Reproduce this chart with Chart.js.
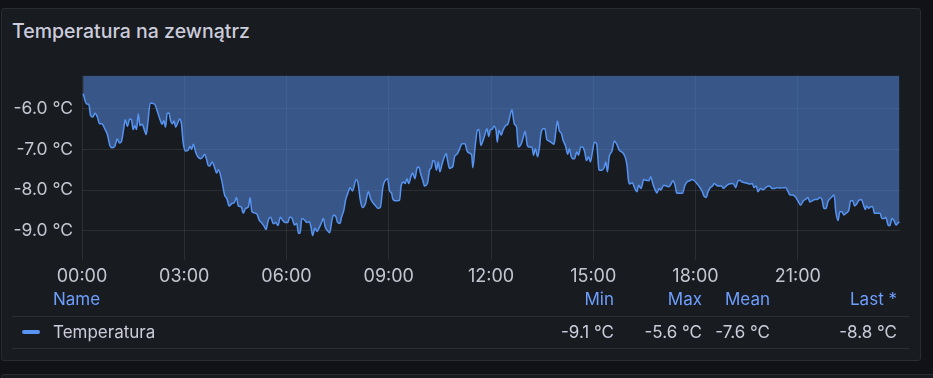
<!DOCTYPE html>
<html>
<head>
<meta charset="utf-8">
<script src="https://cdn.jsdelivr.net/npm/chart.js@4"></script>
<style>
    html, body {
        margin: 0;
        padding: 0;
        width: 933px;
        height: 378px;
        overflow: hidden;
        background: #111217;
        font-family: Inter, "Open Sans", sans-serif;
    }
    .panel {
        position: absolute;
        left: 1px;
        top: 8px;
        width: 920px;
        height: 353px;
        background: #181b1f;
        border: 1px solid #2a2c31;
        border-radius: 3px;
        box-sizing: border-box;
    }
    .panel.next {
        top: 374px;
        width: 940px;
        height: 30px;
    }
    .title {
        position: absolute;
        left: 12px;
        top: 19px;
        font-size: 19.5px;
        font-weight: 500;
        color: #ccccdc;
        line-height: 24px;
    }
    .chart-box {
        position: absolute;
        left: 0;
        top: 56px;
        width: 900px;
        height: 239px;
    }
    .legend {
        position: absolute;
        left: 12px;
        top: 288px;
        width: 897px;
        font-size: 17px;
    }
    .legend .row {
        position: relative;
        border-bottom: 1px solid #2c2e33;
        box-sizing: border-box;
    }
    .legend .row.head { height: 29px; color: #6e9fff; }
    .legend .row.body { height: 32px; color: #ccccdc; }
    .legend span {
        position: absolute;
        line-height: 22px;
        white-space: nowrap;
    }
    .legend .name { left: 41px; }
    .legend .head span { top: 0; }
    .legend .body span { top: 4px; }
    .legend .marker {
        position: absolute;
        left: 10px;
        top: 13px;
        width: 18px;
        height: 4px;
        border-radius: 2px;
        background: #5794f2;
    }
</style>
</head>
<body>
<div class="panel"></div>
<div class="panel next"></div>
<div class="title">Temperatura na zewnątrz</div>
<div class="chart-box"><canvas id="tempChart"></canvas></div>
<div class="legend" id="legend"></div>

<script>
// Minutes since 00:00 and the temperature read at that time
const minutes = [
    2, 8, 12, 15, 19, 23, 27, 31, 35, 40,
    45, 49, 53, 58, 62, 66, 69, 73, 76, 80,
    84, 87, 90, 93, 96, 99, 102, 106, 110, 113,
    116, 120, 123, 128, 133, 137, 141, 144, 147, 150,
    153, 156, 159, 162, 165, 169, 172, 175, 178, 182,
    187, 190, 193, 196, 200, 204, 209, 213, 216, 219,
    222, 225, 229, 234, 237, 240, 246, 251, 255, 259,
    264, 268, 272, 275, 280, 284, 288, 293, 296, 299,
    303, 308, 312, 316, 321, 324, 328, 332, 337, 341,
    345, 349, 353, 358, 362, 366, 370, 374, 378, 381,
    384, 387, 392, 396, 400, 403, 406, 410, 414, 417,
    421, 425, 428, 431, 436, 440, 443, 447, 450, 454,
    457, 461, 464, 468, 472, 476, 483, 486, 490, 494,
    499, 504, 508, 512, 517, 521, 525, 530, 534, 538,
    541, 545, 547, 551, 555, 559, 562, 566, 569, 572,
    575, 579, 582, 586, 590, 593, 596, 600, 603, 608,
    612, 615, 618, 621, 624, 627, 630, 634, 638, 641,
    643, 647, 650, 653, 656, 660, 665, 669, 674, 678,
    682, 686, 688, 692, 696, 699, 702, 706, 709, 713,
    716, 719, 722, 725, 729, 731, 734, 738, 741, 746,
    750, 753, 757, 759, 761, 765, 768, 773, 777, 780,
    784, 787, 792, 795, 798, 802, 805, 808, 812, 815,
    818, 822, 827, 831, 834, 837, 840, 844, 847, 851,
    855, 858, 861, 864, 867, 871, 874, 878, 881, 885,
    888, 892, 895, 899, 902, 906, 908, 910, 915, 919,
    922, 925, 928, 933, 937, 941, 946, 950, 954, 959,
    962, 964, 969, 972, 977, 980, 984, 989, 993, 998,
    1001, 1005, 1009, 1012, 1016, 1019, 1024, 1029, 1033, 1037,
    1040, 1044, 1047, 1052, 1057, 1061, 1065, 1070, 1074, 1078,
    1083, 1087, 1092, 1095, 1099, 1102, 1106, 1110, 1113, 1117,
    1121, 1126, 1129, 1134, 1139, 1144, 1147, 1151, 1154, 1158,
    1162, 1167, 1172, 1176, 1180, 1183, 1187, 1190, 1194, 1199,
    1205, 1210, 1215, 1219, 1224, 1229, 1235, 1239, 1243, 1246,
    1251, 1256, 1260, 1265, 1270, 1274, 1278, 1281, 1286, 1290,
    1294, 1299, 1303, 1306, 1310, 1313, 1317, 1320, 1324, 1327,
    1331, 1334, 1338, 1341, 1345, 1350, 1353, 1357, 1360, 1364,
    1367, 1372, 1375, 1379, 1381, 1385, 1388, 1392, 1395, 1400,
    1405, 1408, 1412, 1415, 1419, 1422, 1426, 1429, 1433, 1437,
    1439
];

const temperatures = [
    -5.63, -5.88, -5.89, -6.16, -6.20, -6.11, -6.20, -6.37, -6.37, -6.49,
    -6.65, -6.90, -6.96, -6.92, -6.74, -6.84, -6.82, -6.53, -6.27, -6.43,
    -6.25, -6.27, -6.51, -6.41, -6.51, -6.12, -6.41, -6.38, -6.53, -6.63,
    -6.33, -5.86, -5.86, -5.89, -6.08, -6.25, -6.38, -6.29, -6.45, -6.11,
    -6.10, -6.29, -6.37, -6.30, -6.45, -6.33, -6.25, -6.37, -6.82, -7.04,
    -7.02, -6.92, -7.00, -6.87, -7.06, -7.18, -7.23, -7.18, -7.12, -7.23,
    -7.39, -7.41, -7.31, -7.47, -7.58, -7.50, -7.76, -8.12, -8.21, -8.39,
    -8.33, -8.31, -8.18, -8.39, -8.41, -8.57, -8.45, -8.41, -8.18, -8.53,
    -8.56, -8.59, -8.74, -8.80, -8.90, -8.97, -8.74, -8.67, -8.83, -8.80,
    -8.87, -8.67, -8.74, -8.80, -8.80, -8.66, -8.70, -8.86, -8.82, -9.06,
    -9.05, -8.70, -8.74, -8.80, -8.78, -8.90, -9.12, -8.94, -9.02, -8.94,
    -8.82, -8.70, -8.90, -8.98, -9.05, -8.74, -8.61, -8.66, -8.80, -8.82,
    -8.66, -8.49, -8.25, -8.08, -7.94, -8.02, -7.74, -7.84, -8.25, -8.43,
    -8.33, -8.04, -8.21, -8.31, -8.39, -8.45, -8.43, -7.90, -7.76, -7.72,
    -8.00, -8.08, -8.21, -8.26, -8.26, -8.25, -7.88, -7.80, -7.84, -7.72,
    -7.84, -7.67, -7.58, -7.72, -7.45, -7.43, -7.59, -7.76, -7.90, -7.84,
    -7.50, -7.45, -7.27, -7.31, -7.51, -7.31, -7.55, -7.35, -7.18, -7.10,
    -7.23, -7.47, -7.45, -7.41, -7.17, -7.12, -6.98, -6.86, -6.86, -7.04,
    -7.09, -7.14, -7.45, -6.94, -6.53, -6.51, -6.90, -6.78, -6.65, -6.49,
    -6.68, -6.51, -6.51, -6.43, -6.53, -6.82, -6.53, -6.65, -6.53, -6.41,
    -6.37, -6.20, -6.02, -6.20, -6.37, -6.45, -6.94, -6.87, -6.69, -6.55,
    -6.90, -6.94, -6.94, -7.14, -6.98, -7.18, -6.98, -6.61, -6.49, -6.49,
    -6.74, -6.79, -6.84, -6.87, -6.57, -6.30, -6.53, -6.61, -6.78, -6.90,
    -7.12, -6.98, -7.17, -7.23, -7.23, -7.06, -7.14, -6.94, -6.94, -7.06,
    -7.27, -7.18, -7.31, -7.02, -6.82, -6.86, -7.18, -7.51, -7.51, -7.45,
    -7.31, -7.55, -7.18, -7.04, -6.79, -6.86, -7.02, -7.06, -7.12, -7.35,
    -7.76, -7.85, -7.82, -7.92, -8.04, -7.88, -7.96, -7.74, -7.76, -7.77,
    -7.67, -7.85, -8.00, -8.07, -7.96, -8.00, -7.88, -7.90, -7.92, -7.85,
    -7.77, -7.88, -8.07, -8.08, -8.08, -7.90, -7.80, -7.77, -7.74, -7.77,
    -7.85, -7.92, -8.04, -8.15, -8.18, -8.04, -7.94, -7.90, -7.84, -7.88,
    -7.90, -7.90, -7.96, -7.90, -7.85, -7.84, -7.85, -7.94, -7.80, -7.76,
    -7.80, -7.82, -7.84, -7.85, -7.84, -7.94, -7.90, -8.04, -7.96, -7.99,
    -7.92, -7.90, -7.96, -7.96, -7.94, -7.95, -7.94, -7.94, -8.04, -8.12,
    -8.12, -8.17, -8.26, -8.37, -8.26, -8.23, -8.18, -8.29, -8.26, -8.23,
    -8.23, -8.18, -8.25, -8.45, -8.45, -8.29, -8.21, -8.17, -8.12, -8.53,
    -8.75, -8.53, -8.53, -8.61, -8.57, -8.49, -8.26, -8.26, -8.39, -8.34,
    -8.26, -8.23, -8.33, -8.48, -8.39, -8.45, -8.41, -8.41, -8.57, -8.57,
    -8.57, -8.70, -8.70, -8.67, -8.86, -8.88, -8.70, -8.74, -8.86, -8.80,
    -8.78
];

// Axis ticks
const xTicks = [0, 180, 360, 540, 720, 900, 1080, 1260];
const yTicks = [-9, -8, -7, -6];

// Legend table
const legendHeaders = ['Min', 'Max', 'Mean', 'Last *'];
const legendValues = ['-9.1 °C', '-5.6 °C', '-7.6 °C', '-8.8 °C'];
const legendRight = [295, 207, 139, 12];

const lineColor = '#5794f2';
const gridColor = 'rgba(204, 204, 220, 0.1)';
const tickColor = '#c4c6d2';

function formatTime(value) {
    const h = Math.floor(value / 60);
    return String(h).padStart(2, '0') + ':00';
}

function buildLegend() {
    let head = '<div class="row head"><span class="name">Name</span>';
    let body = '<div class="row body"><div class="marker"></div><span class="name">Temperatura</span>';
    legendHeaders.forEach((h, i) => {
        head += `<span style="right:${legendRight[i]}px">${h}</span>`;
        body += `<span style="right:${legendRight[i]}px">${legendValues[i]}</span>`;
    });
    head += '</div>';
    body += '</div>';
    document.getElementById('legend').innerHTML = head + body;
}

const ctx = document.getElementById('tempChart').getContext('2d');

new Chart(ctx, {
    type: 'line',
    data: {
        datasets: [{
            label: 'Temperatura',
            data: minutes.map((m, i) => ({ x: m, y: temperatures[i] })),
            borderColor: lineColor,
            backgroundColor: 'rgba(87, 148, 242, 0.5)',
            borderWidth: 1.5,
            pointRadius: 0,
            cubicInterpolationMode: 'monotone',
            fill: 'end'
        }]
    },
    options: {
        responsive: true,
        maintainAspectRatio: false,
        animation: false,
        layout: {
            padding: { top: 10, right: 0, bottom: 0, left: 0 }
        },
        plugins: {
            legend: { display: false },
            tooltip: { enabled: false }
        },
        scales: {
            x: {
                type: 'linear',
                min: 0,
                max: 1440,
                afterBuildTicks: function(scale) {
                    scale.ticks = xTicks.map(v => ({ value: v }));
                },
                afterFit: function(scale) {
                    scale.height = 35;
                },
                grid: {
                    color: gridColor,
                    drawTicks: false
                },
                border: { display: false },
                ticks: {
                    color: tickColor,
                    padding: 6,
                    maxRotation: 0,
                    autoSkip: false,
                    font: { family: 'Inter', size: 18 },
                    callback: function(value) {
                        return formatTime(value);
                    }
                }
            },
            y: {
                min: -9.72,
                max: -5.18,
                afterBuildTicks: function(scale) {
                    scale.ticks = yTicks.map(v => ({ value: v }));
                },
                afterFit: function(scale) {
                    scale.width = 82;
                },
                grid: {
                    color: gridColor,
                    drawTicks: false
                },
                border: { display: false },
                ticks: {
                    color: tickColor,
                    padding: 9,
                    font: { family: 'Inter', size: 17.5 },
                    callback: function(value) {
                        return value.toFixed(1) + ' °C';
                    }
                }
            }
        }
    }
});

buildLegend();
</script>
</body>
</html>
